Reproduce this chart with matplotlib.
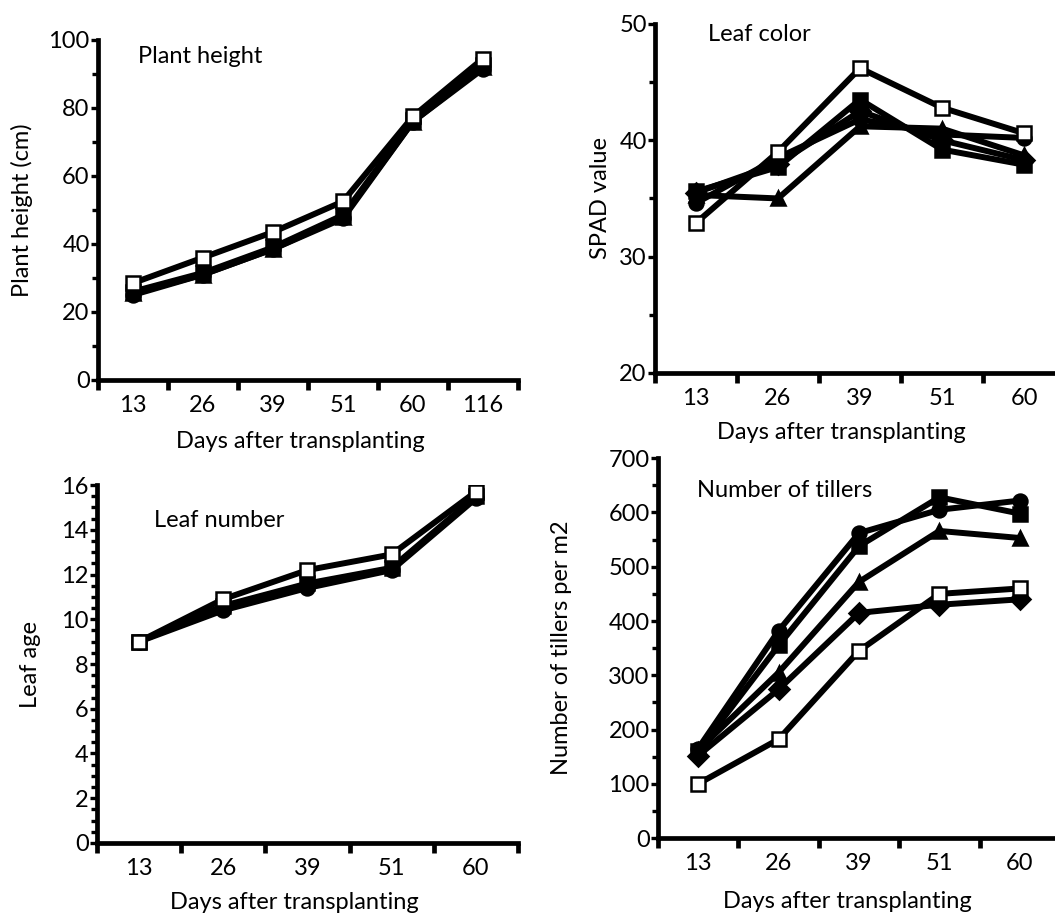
import numpy as np
import matplotlib
matplotlib.use("Agg")
import matplotlib.pyplot as plt
from matplotlib.ticker import MultipleLocator, FixedLocator, NullFormatter, FixedFormatter

plt.rcParams['font.family'] = ['Lato', 'DejaVu Sans']

# days after transplanting (categories)
days_a = ["13", "26", "39", "51", "60", "116"]
days_b = ["13", "26", "39", "51", "60"]

# plant height (cm)
ph_open_sq = [28.5, 36, 43.5, 52.5, 77.5, 94.5]
ph_circle = [25, 31, 38.5, 47.5, 76, 91.5]
ph_square = [26, 31.5, 39, 48.5, 76.5, 92.5]
ph_triangle = [25.5, 31, 38.5, 48, 76, 92]

# leaf color (SPAD)
lc_open_sq = [32.9, 39.0, 46.2, 42.8, 40.6]
lc_circle = [34.6, 38.5, 41.8, 40.5, 40.2]
lc_square = [35.6, 37.7, 43.5, 39.2, 37.9]
lc_triangle = [35.3, 35.0, 41.2, 41.0, 38.7]
lc_diamond = [35.5, 38.0, 42.5, 40.0, 38.3]

# leaf number (leaf age)
ln_open_sq = [9.0, 10.9, 12.2, 12.9, 15.7]
ln_circle = [9.0, 10.4, 11.4, 12.2, 15.4]
ln_square = [9.0, 10.6, 11.6, 12.3, 15.5]

# number of tillers per m2
nt_open_sq = [100, 182, 345, 450, 460]
nt_circle = [165, 382, 562, 605, 622]
nt_square = [160, 355, 538, 628, 598]
nt_triangle = [162, 305, 472, 566, 553]
nt_diamond = [152, 274, 415, 430, 440]

fig = plt.figure(figsize=(10.55, 9.13), dpi=100)

lw = 4.3
fs = 17

def series(ax, vals, marker, face, z=3):
    x = np.arange(len(vals)) + 0.5
    ax.plot(x, vals, color="black", lw=lw, marker=marker, ms=10,
            mfc=face, mec="black", mew=1.8, zorder=z, solid_joinstyle="miter")

def style(ax, cats, ylo, yhi, major, minor, ylabel, ylx, xlx, xly, title, tx, ty):
    n = len(cats)
    ax.set_xlim(0, n)
    ax.set_ylim(ylo, yhi)
    for s in ["top", "right"]:
        ax.spines[s].set_visible(False)
    for s in ["left", "bottom"]:
        ax.spines[s].set_linewidth(3.4)
    ax.xaxis.set_major_locator(FixedLocator(np.arange(n + 1)))
    ax.xaxis.set_major_formatter(NullFormatter())
    ax.xaxis.set_minor_locator(FixedLocator(np.arange(n) + 0.5))
    ax.xaxis.set_minor_formatter(FixedFormatter(cats))
    ax.tick_params(axis="x", which="major", direction="out", length=7, width=3.4)
    ax.tick_params(axis="x", which="minor", length=0, pad=11, labelsize=fs)
    ax.yaxis.set_major_locator(MultipleLocator(major))
    ax.yaxis.set_minor_locator(MultipleLocator(minor))
    ax.tick_params(axis="y", which="major", direction="out", length=5, width=2.4,
                   pad=1, labelsize=fs)
    ax.tick_params(axis="y", which="minor", direction="out", length=4, width=2.4)
    ax.set_ylabel(ylabel, fontsize=fs, va="center")
    ax.yaxis.set_label_coords(ylx, 0.5)
    ax.set_xlabel("Days after transplanting", fontsize=fs, va="center")
    ax.xaxis.set_label_coords(xlx, xly)
    ax.text(tx, ty, title, transform=ax.transAxes, fontsize=fs, va="center")

# top left: plant height
ax1 = fig.add_axes([0.0929, 0.5838, 0.398, 0.3724])
series(ax1, ph_triangle, "^", "black")
series(ax1, ph_square, "s", "black")
series(ax1, ph_circle, "o", "black")
series(ax1, ph_open_sq, "s", "white", z=5)
style(ax1, days_a, 0, 100, 20, 10, "Plant height (cm)", -0.181, 0.481, -0.182,
      "Plant height", 0.095, 0.95)

# top right: leaf color
ax2 = fig.add_axes([0.6209, 0.5915, 0.3886, 0.3823])
series(ax2, lc_triangle, "^", "black")
series(ax2, lc_diamond, "D", "black")
series(ax2, lc_square, "s", "black")
series(ax2, lc_circle, "o", "black")
series(ax2, lc_open_sq, "s", "white", z=5)
style(ax2, days_b, 20, 50, 10, 5, "SPAD value", -0.134, 0.454, -0.172,
      "Leaf color", 0.13, 0.97)

# bottom left: leaf number
ax3 = fig.add_axes([0.0919, 0.0767, 0.399, 0.392])
series(ax3, ln_square, "s", "black")
series(ax3, ln_circle, "o", "black")
series(ax3, ln_open_sq, "s", "white", z=5)
style(ax3, days_b, 0, 16, 2, 0.5, "Leaf age", -0.159, 0.468, -0.165,
      "Leaf number", 0.135, 0.90)

# bottom right: number of tillers
ax4 = fig.add_axes([0.6237, 0.0821, 0.381, 0.416])
series(ax4, nt_diamond, "D", "black")
series(ax4, nt_triangle, "^", "black")
series(ax4, nt_square, "s", "black")
series(ax4, nt_circle, "o", "black")
series(ax4, nt_open_sq, "s", "white", z=5)
style(ax4, days_b, 0, 700, 100, 50, "Number of tillers per m2", -0.239, 0.47, -0.168,
      "Number of tillers", 0.097, 0.915)

fig.savefig("out.png", dpi=100)
